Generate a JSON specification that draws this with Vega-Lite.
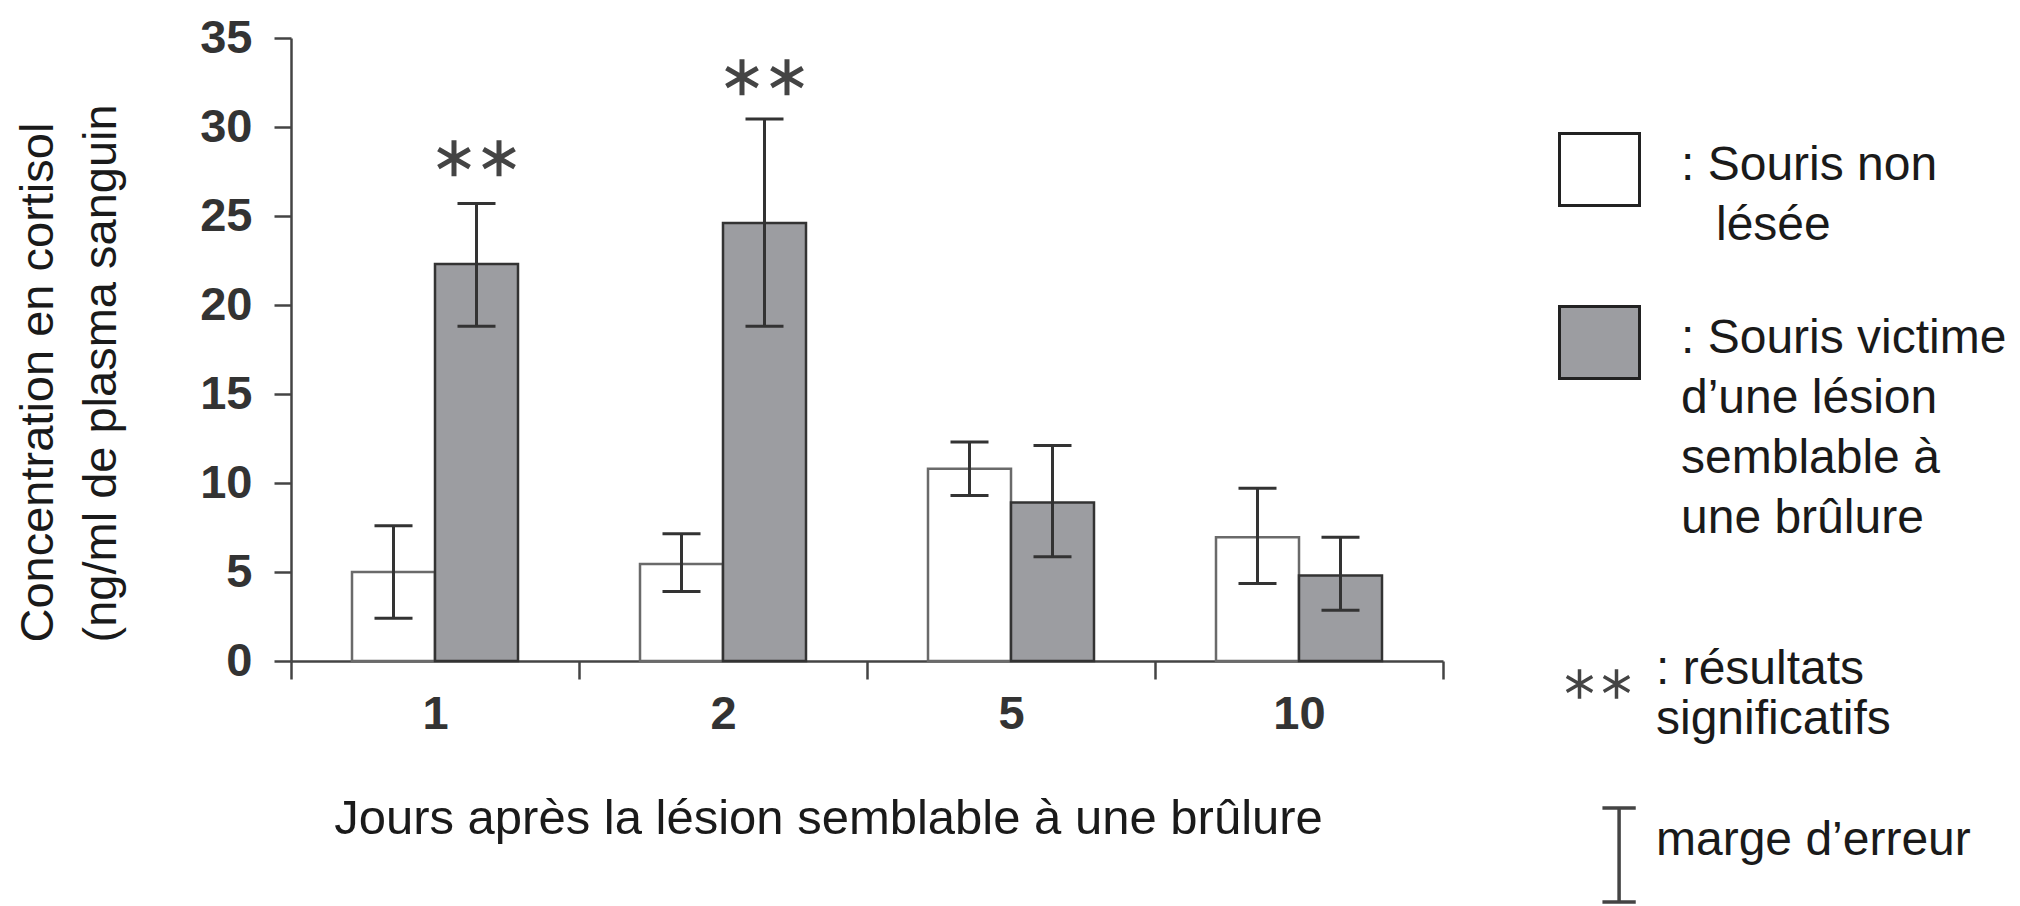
{
  "$schema": "https://vega.github.io/schema/vega-lite/v6.json",
  "width": 1152,
  "height": 623,
  "autosize": {"type": "none"},
  "padding": {"left": 291, "top": 38, "right": 577, "bottom": 245},
  "background": "white",
  "config": {
    "view": {"stroke": null},
    "font": "Liberation Sans",
    "axisX": {"domainColor": "#444444", "domainWidth": 2.5, "tickColor": "#444444", "tickWidth": 2.5, "tickSize": 18, "tickBand": "extent", "labelFont": "Liberation Sans", "labelFontSize": 47, "labelFontWeight": "bold", "labelColor": "#333333", "labelPadding": 12, "labelAngle": 0, "titleFont": "Liberation Sans", "titleFontSize": 49, "titleFontWeight": "normal", "titleColor": "#1a1a1a", "titlePadding": 57, "titleX": 537, "grid": false},
    "axisY": {"domainColor": "#444444", "domainWidth": 2.5, "tickColor": "#444444", "tickWidth": 2.5, "tickSize": 17, "labelFont": "Liberation Sans", "labelFontSize": 47, "labelFontWeight": "bold", "labelColor": "#333333", "labelPadding": 22, "titleFont": "Liberation Sans", "titleFontSize": 47, "titleFontWeight": "normal", "titleColor": "#1a1a1a", "titlePadding": 74, "titleLineHeight": 63, "titleAnchor": "start", "titleY": 604, "grid": false}
  },
  "datasets": {
    "barres": [
      {"jour": "1", "groupe": "non", "valeur": 5.0, "bas": 2.4, "haut": 7.6},
      {"jour": "1", "groupe": "victime", "valeur": 22.3, "bas": 18.8, "haut": 25.7},
      {"jour": "2", "groupe": "non", "valeur": 5.45, "bas": 3.9, "haut": 7.15},
      {"jour": "2", "groupe": "victime", "valeur": 24.6, "bas": 18.8, "haut": 30.45},
      {"jour": "5", "groupe": "non", "valeur": 10.8, "bas": 9.3, "haut": 12.3},
      {"jour": "5", "groupe": "victime", "valeur": 8.9, "bas": 5.85, "haut": 12.1},
      {"jour": "10", "groupe": "non", "valeur": 6.95, "bas": 4.35, "haut": 9.7},
      {"jour": "10", "groupe": "victime", "valeur": 4.8, "bas": 2.85, "haut": 6.95}
    ],
    "etoiles": [
      {"jour": "1", "groupe": "victime", "position": 28.25, "signe": "sig"},
      {"jour": "2", "groupe": "victime", "position": 32.8, "signe": "sig"}
    ]
  },
  "layer": [
    {
      "data": {"name": "barres"},
      "mark": {"type": "bar", "strokeWidth": 2.5, "opacity": 1},
      "encoding": {
        "x": {"field": "jour", "type": "nominal", "sort": ["1", "2", "5", "10"], "scale": {"paddingInner": 0, "paddingOuter": 0}, "title": "Jours après la lésion semblable à une brûlure"},
        "xOffset": {"field": "groupe", "type": "nominal", "sort": ["non", "victime"], "scale": {"paddingInner": 0, "paddingOuter": 0.735}},
        "y": {"field": "valeur", "type": "quantitative", "scale": {"domain": [0, 35], "nice": false}, "axis": {"values": [0, 5, 10, 15, 20, 25, 30, 35]}, "title": ["Concentration en cortisol", "(ng/ml de plasma sanguin"]},
        "fill": {"field": "groupe", "type": "nominal", "scale": {"domain": ["non", "victime"], "range": ["#ffffff", "#9c9da1"]},
          "legend": {"title": null, "orient": "none", "legendX": 1267, "legendY": 90, "padding": 0, "symbolType": "M-1,-0.9H1V0.9H-1Z", "symbolSize": 6400, "symbolStrokeColor": "#222222", "symbolStrokeWidth": 3, "symbolOpacity": 1, "labelFont": "Liberation Sans", "labelFontSize": 48, "labelColor": "#1a1a1a", "labelOffset": 40, "labelLimit": 1000, "labelBaseline": "top", "rowPadding": 50,
            "labelExpr": "datum.value == 'non' ? [': Souris non', '\u2800lésée'] : [': Souris victime', 'd’une lésion', 'semblable à', 'une brûlure']",
            "encode": {"labels": {"update": {"lineHeight": {"value": 60}, "dy": {"value": -28}}}}}},
        "stroke": {"condition": {"test": "datum.groupe === 'non'", "value": "#6a6a6a"}, "value": "#333333"}
      }
    },
    {
      "data": {"name": "barres"},
      "mark": {"type": "rule", "color": "#333333", "strokeWidth": 3},
      "encoding": {
        "x": {"field": "jour", "type": "nominal", "sort": ["1", "2", "5", "10"]},
        "xOffset": {"field": "groupe", "type": "nominal", "sort": ["non", "victime"]},
        "y": {"field": "bas", "type": "quantitative", "axis": {"values": [0, 5, 10, 15, 20, 25, 30, 35]}, "title": ["Concentration en cortisol", "(ng/ml de plasma sanguin"]},
        "y2": {"field": "haut"}
      }
    },
    {
      "data": {"name": "barres"},
      "mark": {"type": "tick", "color": "#333333", "size": 38, "thickness": 3, "opacity": 1},
      "encoding": {
        "x": {"field": "jour", "type": "nominal", "sort": ["1", "2", "5", "10"]},
        "xOffset": {"field": "groupe", "type": "nominal", "sort": ["non", "victime"]},
        "y": {"field": "bas", "type": "quantitative", "axis": {"values": [0, 5, 10, 15, 20, 25, 30, 35]}, "title": ["Concentration en cortisol", "(ng/ml de plasma sanguin"]}
      }
    },
    {
      "data": {"name": "barres"},
      "mark": {"type": "tick", "color": "#333333", "size": 38, "thickness": 3, "opacity": 1},
      "encoding": {
        "x": {"field": "jour", "type": "nominal", "sort": ["1", "2", "5", "10"]},
        "xOffset": {"field": "groupe", "type": "nominal", "sort": ["non", "victime"]},
        "y": {"field": "haut", "type": "quantitative", "axis": {"values": [0, 5, 10, 15, 20, 25, 30, 35]}, "title": ["Concentration en cortisol", "(ng/ml de plasma sanguin"]}
      }
    },
    {
      "data": {"name": "etoiles"},
      "mark": {"type": "point", "filled": false, "size": 8100, "stroke": "#444444", "strokeWidth": 5, "opacity": 1},
      "encoding": {
        "x": {"field": "jour", "type": "nominal", "sort": ["1", "2", "5", "10"]},
        "xOffset": {"field": "groupe", "type": "nominal", "sort": ["non", "victime"]},
        "y": {"field": "position", "type": "quantitative", "axis": {"values": [0, 5, 10, 15, 20, 25, 30, 35]}, "title": ["Concentration en cortisol", "(ng/ml de plasma sanguin"]},
        "shape": {"field": "signe", "type": "nominal",
          "scale": {"domain": ["sig", "err"], "range": ["M-0.5,-0.4V0.4M-0.846,-0.2L-0.154,0.2M-0.846,0.2L-0.154,-0.2M0.5,-0.4V0.4M0.154,-0.2L0.846,0.2M0.154,0.2L0.846,-0.2", "M0.12,-1.27H1.02M0.57,-1.27V1.27M0.12,1.27H1.02"]},
          "legend": {"title": null, "orient": "none", "legendX": 1268, "legendY": 607, "padding": 0, "symbolSize": 5476, "symbolStrokeColor": "#444444", "symbolStrokeWidth": 3.5, "symbolFillColor": "transparent", "symbolOpacity": 1, "labelFont": "Liberation Sans", "labelFontSize": 48, "labelColor": "#1a1a1a", "labelOffset": 19, "labelLimit": 1000, "labelBaseline": "alphabetic", "rowPadding": 57,
            "labelExpr": "datum.value == 'sig' ? [': résultats', 'significatifs'] : 'marge d’erreur'",
            "encode": {"labels": {"update": {"lineHeight": {"value": 60}, "dy": {"value": 10}}}}}}
      }
    }
  ]
}
